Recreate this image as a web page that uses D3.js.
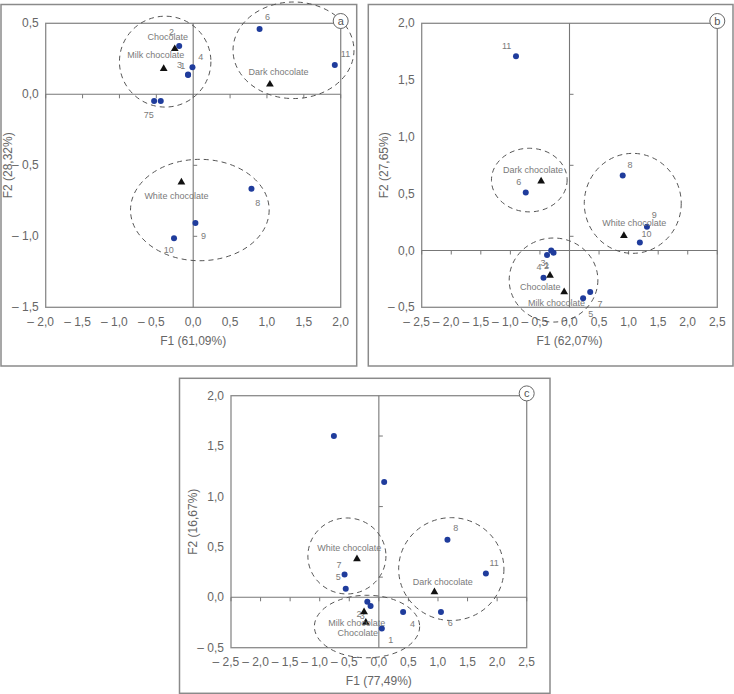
<!DOCTYPE html>
<html><head><meta charset="utf-8">
<script src="https://cdn.jsdelivr.net/npm/d3@7"></script>
<style>
body{margin:0;background:#fff;}
svg{display:block;font-family:"Liberation Sans",Arial,sans-serif;}
</style></head>
<body><svg id="chart" width="734" height="694"></svg>
<script>
// ---------------- DATA ----------------
const sampleIds = ["1","2","3","4","5","6","7","8","9","10","11"];
const groupNames = ["Chocolate","Milk chocolate","Dark chocolate","White chocolate"];

// Panel a
const pointF1A = [-0.07,-0.19,-0.07,-0.01,-0.44,0.90,-0.53,0.79,0.03,-0.26,1.92];
const pointF2A = [0.136,0.34,0.14,0.19,-0.047,0.46,-0.047,-0.665,-0.906,-1.014,0.206];
const groupF1A = [-0.25,-0.40,1.04,-0.16];
const groupF2A = [0.32,0.18,0.07,-0.62];
const ellipseCxA = [-0.38,1.36,0.09];
const ellipseCyA = [0.23,0.31,-0.815];
const ellipseRxA = [0.62,0.82,0.94];
const ellipseRyA = [0.32,0.34,0.357];
const xTicksA = [-2.0,-1.5,-1.0,-0.5,0.0,0.5,1.0,1.5,2.0];
const yTicksA = [-1.5,-1.0,-0.5,0.0,0.5];
const vMarksA = [-1.0,-0.5];
const xTitleA = "F1 (61,09%)", yTitleA = "F2 (28,32%)";

// Panel b
const pointF1B = [-0.27,-0.31,-0.38,-0.44,0.23,-0.74,0.35,0.90,1.31,1.19,-0.905];
const pointF2B = [-0.02,0.0,-0.04,-0.24,-0.42,0.51,-0.365,0.66,0.21,0.07,1.71];
const groupF1B = [-0.33,-0.09,-0.48,0.92];
const groupF2B = [-0.22,-0.365,0.61,0.13];
const ellipseCxB = [-0.27,-0.68,1.07];
const ellipseCyB = [-0.26,0.62,0.415];
const ellipseRxB = [0.75,0.64,0.82];
const ellipseRyB = [0.37,0.28,0.44];
const xTicksB = [-2.5,-2.0,-1.5,-1.0,-0.5,0.0,0.5,1.0,1.5,2.0,2.5];
const yTicksB = [-0.5,0.0,0.5,1.0,1.5,2.0];
const vMarksB = [0.125,0.75,1.375];
const xTitleB = "F1 (62,07%)", yTitleB = "F2 (27,65%)";

// Panel c
const pointF1C = [0.05,-0.195,-0.14,0.41,-0.56,1.05,-0.58,1.16,-0.76,0.09,1.81];
const pointF2C = [-0.31,-0.044,-0.086,-0.146,0.086,-0.146,0.225,0.57,1.60,1.145,0.235];
const groupF1C = [-0.22,-0.25,0.94,-0.37];
const groupF2C = [-0.25,-0.146,0.053,0.38];
const ellipseCxC = [-0.2,-0.54,1.225];
const ellipseCyC = [-0.29,0.41,0.28];
const ellipseRxC = [0.89,0.66,0.89];
const ellipseRyC = [0.31,0.377,0.51];
const xTicksC = [-2.5,-2.0,-1.5,-1.0,-0.5,0.0,0.5,1.0,1.5,2.0,2.5];
const yTicksC = [-0.5,0.0,0.5,1.0,1.5,2.0];
const vMarksC = [0.2,0.9,1.6];
const xTitleC = "F1 (77,49%)", yTitleC = "F2 (16,67%)";

// ---------------- LAYOUT (label offsets in px) ----------------
const labelOffA = [[-5.3,-9.3],[-7.7,-13.7],[-8.5,-9.3],[8.3,-10.3],[-9.5,14],[8,-12],[-7.8,14],[6.4,14],[8,12.7],[-5.3,11.7],[10.7,-11]];
const labelOffB = [[-6.7,12.3],[-4.7,15.4],[-4,8],[-4.6,-10.3],[7.7,15.3],[-7,-10.6],[9.7,12],[7.3,-10.3],[7.3,-11.3],[6.7,-8.6],[-9.3,-10]];
const labelOffC = [[9,11],[-8.3,12.3],[-8.2,10],[9.4,12.3],[-7.4,-11.7],[9.3,10.7],[-5.6,-10],[8.3,-12],null,null,[8.3,-11]];
const groupOffA = [[-7,-11.6],[-8,-13.3],[8.7,-12.6],[-5,13.4]];
const groupOffB = [[-9.7,11.3],[-7.7,11],[-8,-11.4],[10.3,-12.3]];
const groupOffC = [[-8,10],[-7.3,10.7],[8.4,-10.3],[-7.7,-10.7]];

const panels = [
  {tag:"a", frame:[1,4.5,355.7,361.5], plot:[45.7,340.7,23.3,307.3], xd:[-2,2], yd:[-1.5,0.5],
   px:pointF1A, py:pointF2A, gx:groupF1A, gy:groupF2A, ecx:ellipseCxA, ecy:ellipseCyA, erx:ellipseRxA, ery:ellipseRyA,
   xt:xTicksA, yt:yTicksA, vm:vMarksA, xTitle:xTitleA, yTitle:yTitleA, lo:labelOffA, go:groupOffA},
  {tag:"b", frame:[368.3,4.5,364.7,361.5], plot:[421.7,717.3,23.3,307.3], xd:[-2.5,2.5], yd:[-0.5,2],
   px:pointF1B, py:pointF2B, gx:groupF1B, gy:groupF2B, ecx:ellipseCxB, ecy:ellipseCyB, erx:ellipseRxB, ery:ellipseRyB,
   xt:xTicksB, yt:yTicksB, vm:vMarksB, xTitle:xTitleB, yTitle:yTitleB, lo:labelOffB, go:groupOffB},
  {tag:"c", frame:[179.5,378.3,370.5,315], plot:[231,526.7,395.7,647.7], xd:[-2.5,2.5], yd:[-0.5,2],
   px:pointF1C, py:pointF2C, gx:groupF1C, gy:groupF2C, ecx:ellipseCxC, ecy:ellipseCyC, erx:ellipseRxC, ery:ellipseRyC,
   xt:xTicksC, yt:yTicksC, vm:vMarksC, xTitle:xTitleC, yTitle:yTitleC, lo:labelOffC, go:groupOffC}
];

const fmt = v => (v < 0 ? "\u2013 " : "") + Math.abs(v).toFixed(1).replace(".", ",");
const svg = d3.select("#chart");
const axisCol = "#8a8a8a", textCol = "#666", labCol = "#7a7a7a";

panels.forEach(p => {
  const [L,R,T,B] = p.plot;
  const x = d3.scaleLinear().domain(p.xd).range([L,R]);
  const y = d3.scaleLinear().domain(p.yd).range([B,T]);
  const g = svg.append("g");

  // outer frame
  g.append("rect").attr("x",p.frame[0]).attr("y",p.frame[1]).attr("width",p.frame[2]).attr("height",p.frame[3])
    .attr("fill","none").attr("stroke",axisCol).attr("stroke-width",1.5);
  // plot frame
  g.append("rect").attr("x",L).attr("y",T).attr("width",R-L).attr("height",B-T)
    .attr("fill","none").attr("stroke",axisCol).attr("stroke-width",1.3);

  // zero lines
  g.append("line").attr("x1",L).attr("x2",R).attr("y1",y(0)).attr("y2",y(0)).attr("stroke","#777").attr("stroke-width",1.1);
  g.append("line").attr("x1",x(0)).attr("x2",x(0)).attr("y1",T).attr("y2",B).attr("stroke","#777").attr("stroke-width",1.1);
  // tick marks on zero lines
  g.selectAll(".hm").data(p.xt).join("line").attr("x1",d=>x(d)).attr("x2",d=>x(d))
    .attr("y1",y(0)).attr("y2",y(0)+4).attr("stroke","#777").attr("stroke-width",1);
  g.selectAll(".vm").data(p.vm).join("line").attr("x1",x(0)).attr("x2",x(0)+4)
    .attr("y1",d=>y(d)).attr("y2",d=>y(d)).attr("stroke","#777").attr("stroke-width",1);

  // tick labels
  g.selectAll(".xl").data(p.xt).join("text").attr("x",d=>x(d)+8.3).attr("y",B+14.4)
    .attr("text-anchor","end").attr("dominant-baseline","central").attr("font-size",12).attr("fill",textCol).text(fmt);
  g.selectAll(".yl").data(p.yt).join("text").attr("x",L-7).attr("y",d=>y(d))
    .attr("text-anchor","end").attr("dominant-baseline","central").attr("font-size",12).attr("fill",textCol).text(fmt);

  // axis titles
  g.append("text").attr("x",(L+R)/2).attr("y",B+33.4).attr("text-anchor","middle").attr("dominant-baseline","central")
    .attr("font-size",12).attr("fill",textCol).text(p.xTitle);
  g.append("text").attr("transform",`translate(${L-38},${(T+B)/2}) rotate(-90)`).attr("text-anchor","middle")
    .attr("dominant-baseline","central").attr("font-size",12).attr("fill",textCol).text(p.yTitle);

  // ellipses
  const ell = p.ecx.map((cx,i)=>({cx, cy:p.ecy[i], rx:p.erx[i], ry:p.ery[i]}));
  g.selectAll(".el").data(ell).join("ellipse")
    .attr("cx",d=>x(d.cx)).attr("cy",d=>y(d.cy))
    .attr("rx",d=>x(d.cx+d.rx)-x(d.cx)).attr("ry",d=>y(d.cy)-y(d.cy+d.ry))
    .attr("fill","none").attr("stroke","#555").attr("stroke-width",1).attr("stroke-dasharray","5,4");

  // points
  const pts = sampleIds.map((id,i)=>({id, f1:p.px[i], f2:p.py[i], off:p.lo[i]}));
  g.selectAll(".pt").data(pts).join("circle").attr("cx",d=>x(d.f1)).attr("cy",d=>y(d.f2)).attr("r",3)
    .attr("fill","#1f3c9c");
  g.selectAll(".ptl").data(pts.filter(d=>d.off)).join("text")
    .attr("x",d=>x(d.f1)+d.off[0]).attr("y",d=>y(d.f2)+d.off[1])
    .attr("text-anchor","middle").attr("dominant-baseline","central").attr("font-size",9).attr("fill",labCol).text(d=>d.id);

  // group triangles
  const grp = groupNames.map((n,i)=>({n, f1:p.gx[i], f2:p.gy[i], off:p.go[i]}));
  g.selectAll(".tr").data(grp).join("path").attr("d",d3.symbol(d3.symbolTriangle,26))
    .attr("transform",d=>`translate(${x(d.f1)},${y(d.f2)})`).attr("fill","#111");
  g.selectAll(".trl").data(grp).join("text")
    .attr("x",d=>x(d.f1)+d.off[0]).attr("y",d=>y(d.f2)+d.off[1])
    .attr("text-anchor","middle").attr("dominant-baseline","central").attr("font-size",9).attr("fill",labCol).text(d=>d.n);

  // badge
  g.append("circle").attr("cx",R).attr("cy",T-2.3).attr("r",7.5).attr("fill","#fff").attr("stroke","#666").attr("stroke-width",1);
  g.append("text").attr("x",R).attr("y",T-2.8).attr("text-anchor","middle").attr("dominant-baseline","central")
    .attr("font-size",11).attr("fill","#555").text(p.tag);
});
</script></body></html>
